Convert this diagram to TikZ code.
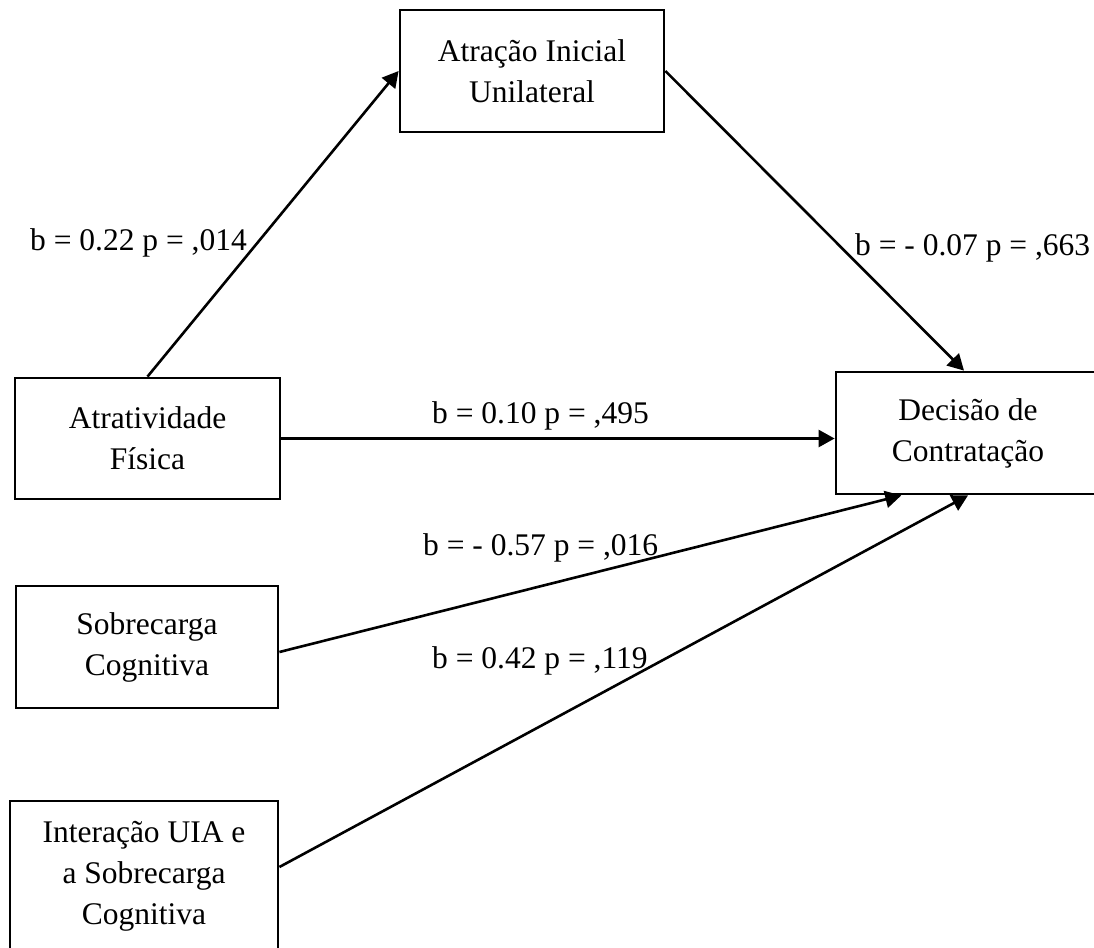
\documentclass[tikz,border=0pt]{standalone}
\usepackage{fontspec}
\setmainfont{Liberation Serif}
\usetikzlibrary{arrows.meta,calc}
\tikzset{
	varbox/.style={draw, line width=2.8pt, minimum width=264pt, minimum height=122pt, inner sep=0pt, align=center, font=\fontsize{31.5}{41}\selectfont},
	effect/.style={line width=2.6pt, -{Triangle[length=16pt,width=17pt]}},
	coef/.style={inner sep=0pt, anchor=base west, font=\fontsize{31.5}{41}\selectfont}
}

\begin{document}
\begin{tikzpicture}[x=1pt,y=-1pt]
			%%%%% START %%%%%
			
			\fill[white] (0, 0) rectangle (1094, 947);
			\useasboundingbox (0, 0) rectangle (1094, 947);
			
			\node[varbox] (ai) at (532, 71) {Atração Inicial\\Unilateral};
			\node[varbox, minimum width=265pt, minimum height=121pt] (af) at (147.5, 438.5) {Atratividade\\Física};
			\node[varbox] (dc) at (968, 433) {Decisão de\\Contratação};
			\node[varbox, minimum width=262pt] (sc) at (147, 647) {Sobrecarga\\Cognitiva};
			\node[varbox, minimum width=268pt, minimum height=150pt] (ic) at (144, 876) {Interação UIA e\\a Sobrecarga\\Cognitiva};
			
			\draw[effect] (af.north) -- (ai.west);
			\draw[effect] (ai.east) -- ([xshift=-4pt]dc.north);
			\draw[effect] (af.east) -- (af.east -| dc.west);
			\draw[effect] ([yshift=-5pt]sc.east) -- ($(dc.south west)!0.25!(dc.south east)$);
			\draw[effect] ([yshift=9pt]ic.east) -- (dc.south);
			
			\node[coef] (b1) at (30, 250) {b = 0.22 p = ,014};
			\node[coef] (b2) at (855, 255) {b = - 0.07 p = ,663};
			\node[coef] (b3) at (432, 423) {b = 0.10 p = ,495};
			\node[coef] (b4) at (423, 555) {b = - 0.57 p = ,016};
			\node[coef] (b5) at (432, 668) {b = 0.42 p = ,119};
			
			%%%%% END %%%%%
\end{tikzpicture}
\end{document}
